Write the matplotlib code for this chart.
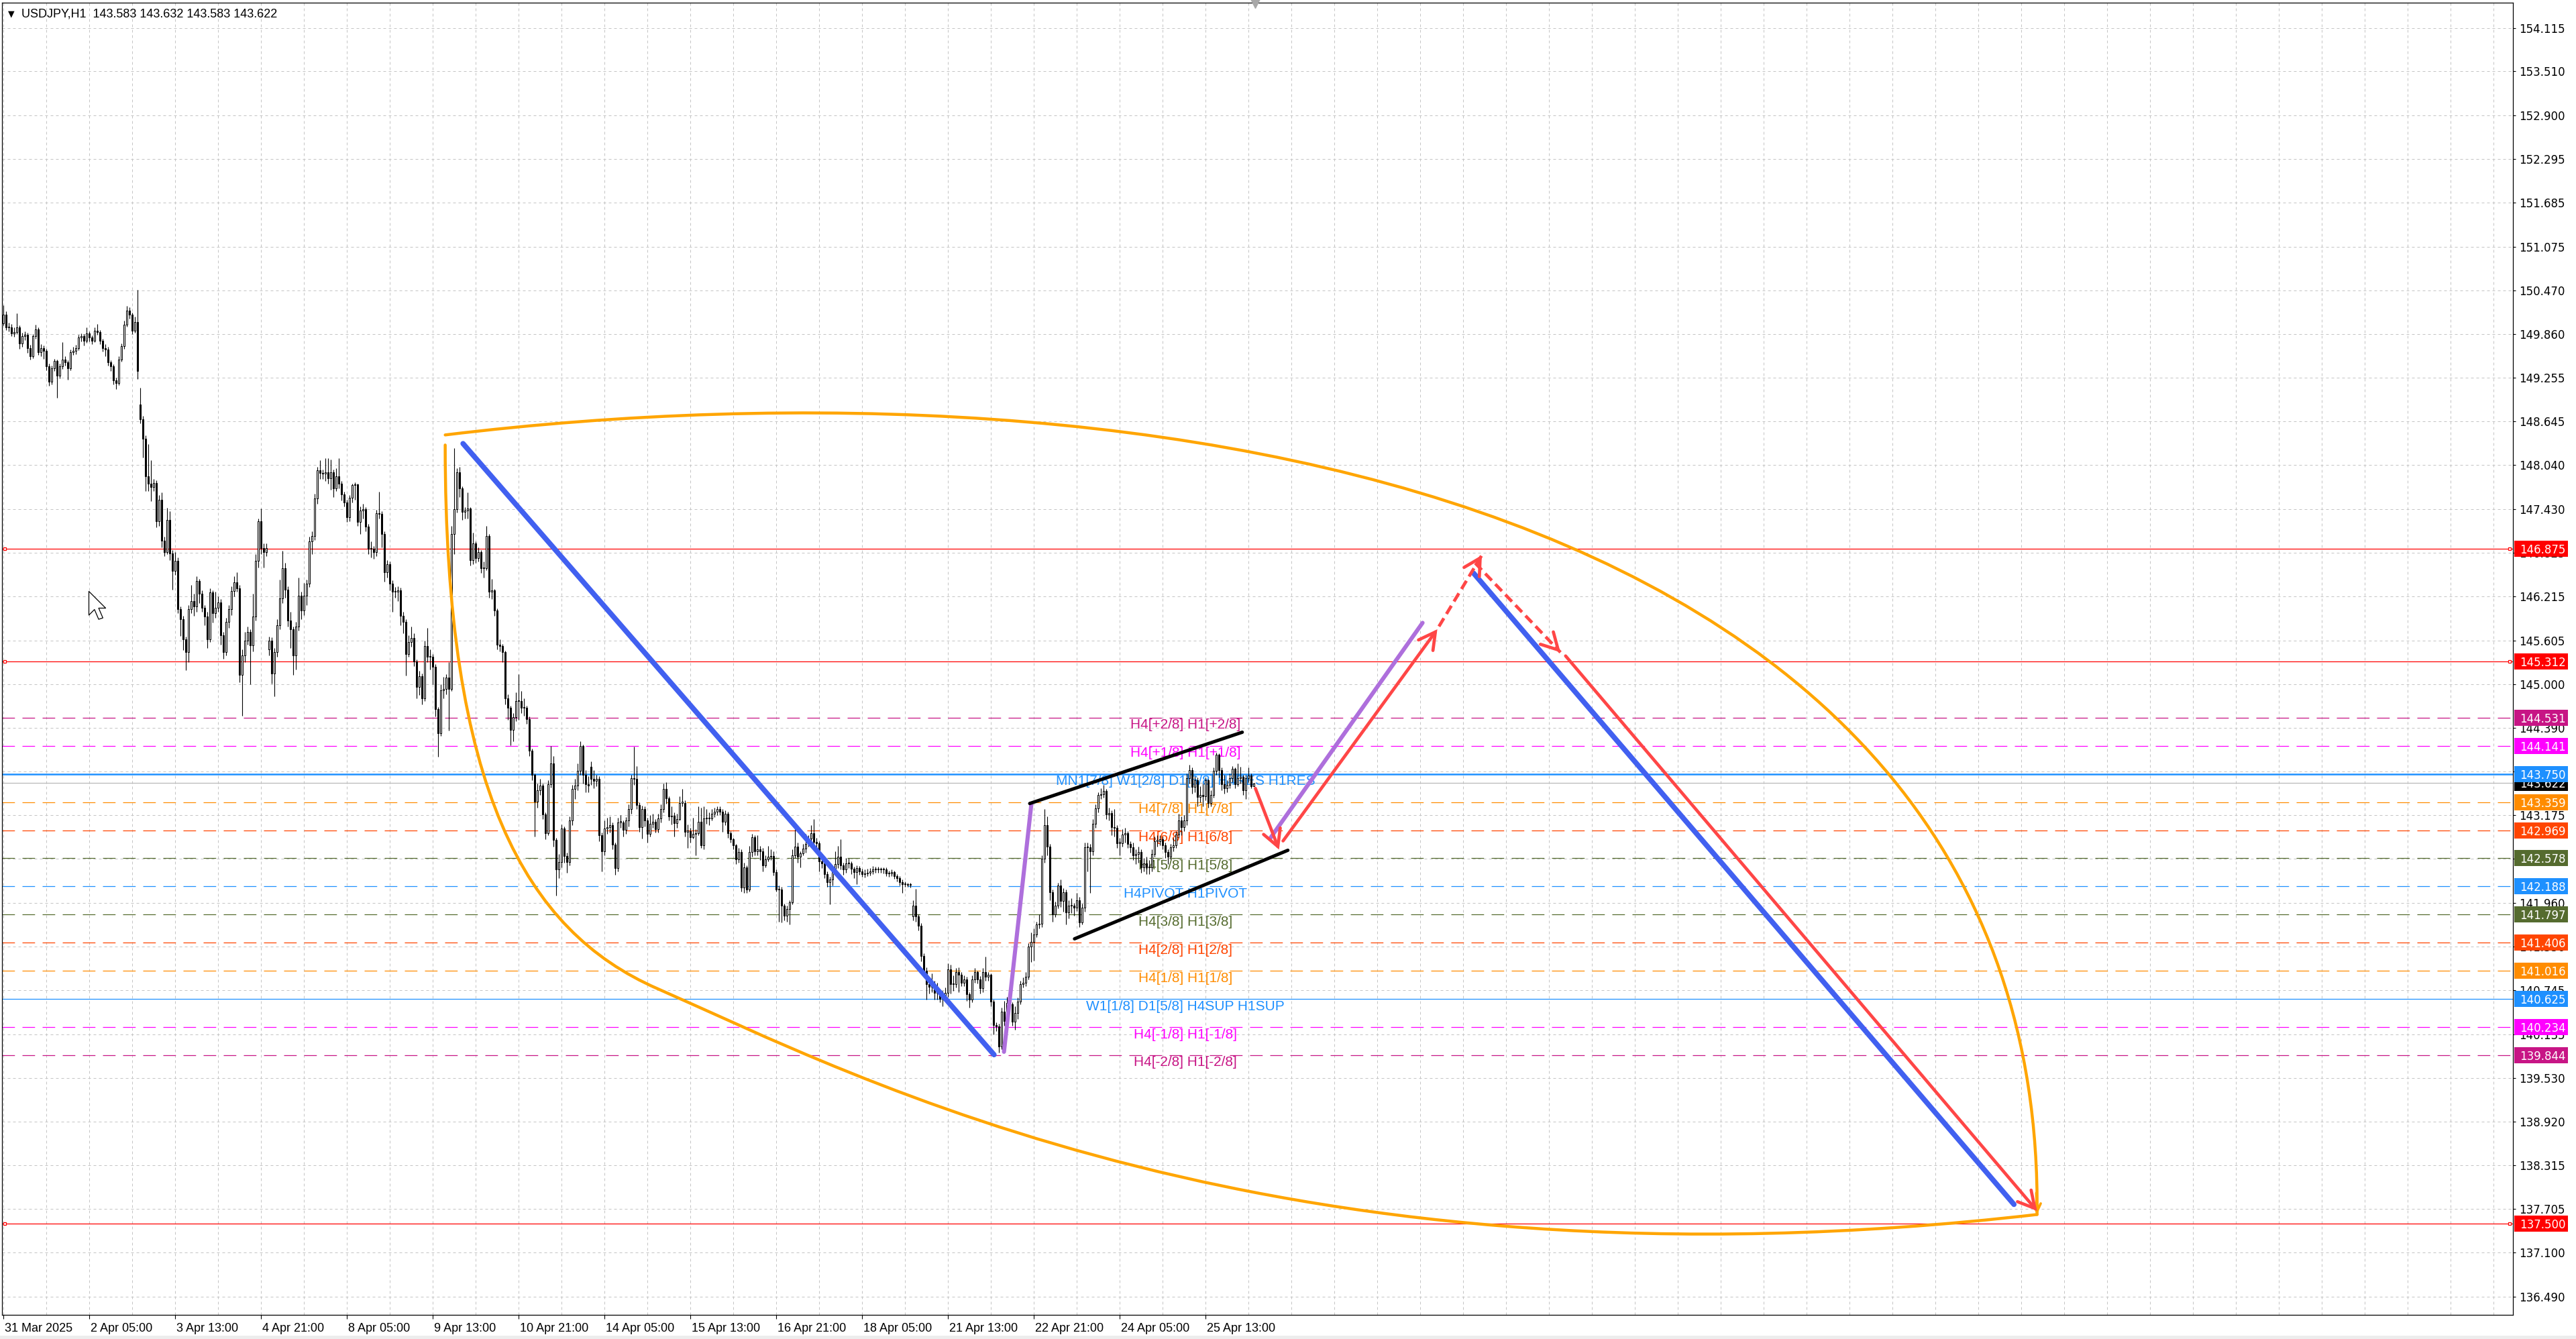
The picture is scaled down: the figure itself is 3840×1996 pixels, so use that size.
import matplotlib
matplotlib.use("Agg")
import matplotlib.pyplot as plt
import matplotlib.transforms as mtransforms
from matplotlib.path import Path
from matplotlib.patches import PathPatch, Rectangle

# ---- hourly USDJPY candles (bar 0 = 31 Mar 21:00) ----
OPEN = [
    150.01, 150.13, 149.95, 149.95, 149.87, 149.89, 149.95, 149.73, 149.83, 149.85,
    149.67, 149.55, 149.83, 149.93, 149.61, 149.67, 149.63, 149.41, 149.20, 149.39,
    149.49, 149.28, 149.41, 149.51, 149.47, 149.39, 149.61, 149.63, 149.67, 149.81,
    149.83, 149.77, 149.87, 149.81, 149.77, 149.91, 149.89, 149.77, 149.67, 149.65,
    149.47, 149.41, 149.22, 149.18, 149.51, 149.69, 149.99, 150.19, 150.13, 149.91,
    150.03, 148.88, 148.68, 148.41, 147.89, 147.78, 147.74, 147.79, 147.26, 147.56,
    146.99, 146.83, 147.28, 146.81, 146.57, 146.71, 146.04, 145.90, 145.62, 145.44,
    146.04, 146.15, 146.08, 146.43, 146.25, 146.06, 145.94, 145.62, 146.27, 145.98,
    146.06, 146.13, 145.68, 145.44, 145.86, 146.04, 146.29, 146.41, 146.33, 145.13,
    145.40, 145.60, 145.72, 145.54, 145.94, 146.71, 147.26, 146.89, 146.83, 145.48,
    145.60, 145.15, 145.44, 145.82, 146.19, 146.61, 146.31, 145.88, 145.76, 145.40,
    145.80, 146.23, 146.02, 146.23, 146.39, 146.98, 147.06, 147.58, 147.97, 147.93,
    147.92, 147.94, 147.86, 147.94, 147.72, 147.89, 147.78, 147.63, 147.52, 147.32,
    147.59, 147.76, 147.77, 147.25, 147.41, 147.43, 147.19, 146.88, 146.88, 146.83,
    147.37, 147.36, 147.08, 146.55, 146.66, 146.39, 146.28, 146.28, 146.30, 145.95,
    145.86, 145.42, 145.58, 145.64, 145.31, 144.96, 145.11, 144.80, 145.53, 145.38,
    145.38, 145.24, 144.65, 144.32, 144.91, 144.93, 145.09, 144.93, 147.08, 147.43,
    147.94, 147.72, 147.39, 147.41, 147.44, 146.72, 146.95, 146.75, 146.83, 146.61,
    146.61, 147.06, 146.28, 146.30, 146.02, 145.55, 145.53, 145.44, 144.80, 144.67,
    144.36, 144.54, 144.76, 144.76, 144.67, 144.67, 144.51, 144.07, 143.74, 143.37,
    143.52, 143.59, 143.19, 142.93, 143.61, 143.90, 142.83, 142.42, 142.53, 142.99,
    142.61, 142.53, 143.10, 143.54, 143.59, 143.79, 144.14, 143.74, 143.61, 143.85,
    143.68, 143.65, 143.68, 142.90, 142.68, 142.99, 143.01, 143.04, 142.77, 142.44,
    143.08, 143.08, 142.97, 143.10, 143.26, 143.69, 143.68, 143.32, 143.01, 143.26,
    143.10, 142.92, 143.06, 143.09, 142.98, 143.13, 143.26, 143.54, 143.41, 143.16,
    143.17, 143.07, 143.12, 143.35, 143.35, 142.95, 142.96, 142.87, 142.92, 142.93,
    143.09, 142.76, 143.13, 143.13, 143.13, 143.20, 143.23, 143.26, 143.23, 143.09,
    143.20, 142.93, 142.84, 142.76, 142.56, 142.67, 142.17, 142.45, 142.14, 142.67,
    142.87, 142.68, 142.70, 142.68, 142.48, 142.56, 142.60, 142.61, 142.39, 142.14,
    142.14, 141.92, 141.78, 141.87, 141.97, 142.62, 142.74, 142.60, 142.65, 142.71,
    142.78, 142.85, 142.93, 142.81, 142.79, 142.54, 142.51, 142.36, 142.25, 142.28,
    142.39, 142.50, 142.60, 142.48, 142.42, 142.51, 142.51, 142.43, 142.39, 142.44,
    142.40, 142.36, 142.37, 142.38, 142.40, 142.42, 142.42, 142.42, 142.42, 142.42,
    142.37, 142.37, 142.39, 142.33, 142.30, 142.25, 142.22, 142.22, 142.21, 141.77,
    141.92, 141.77, 141.64, 141.22, 141.02, 140.83, 140.79, 140.83, 140.71, 140.72,
    140.63, 140.65, 140.71, 141.04, 140.83, 140.83, 141.00, 140.96, 140.85, 140.90,
    140.69, 140.62, 140.90, 141.00, 140.90, 140.77, 141.00, 140.93, 140.96, 140.59,
    140.26, 140.24, 139.96, 140.45, 140.32, 140.57, 140.55, 140.31, 140.43, 140.59,
    140.83, 140.85, 140.93, 141.35, 141.42, 141.52, 141.66, 141.67, 142.57, 143.04,
    142.74, 142.11, 141.80, 141.92, 142.20, 141.99, 142.11, 141.83, 141.92, 141.92,
    141.89, 142.00, 141.69, 141.89, 142.73, 142.73, 142.68, 143.06, 143.27, 143.46,
    143.47, 143.51, 143.19, 143.21, 143.01, 143.00, 142.79, 142.79, 142.91, 142.93,
    142.78, 142.73, 142.62, 142.64, 142.67, 142.45, 142.51, 142.45, 142.45, 142.64,
    142.82, 142.82, 142.84, 142.76, 142.67, 142.60, 142.73, 142.76, 142.91, 143.10,
    143.01, 143.10, 143.69, 143.80, 143.57, 143.66, 143.43, 143.46, 143.44, 143.66,
    143.35, 143.46, 143.79, 144.02, 143.80, 143.61, 143.55, 143.60, 143.69, 143.82,
    143.61, 143.69, 143.71, 143.52, 143.69, 143.73, 143.58,
]
HIGH = [
    150.26, 150.18, 150.02, 150.00, 149.95, 150.15, 149.98, 149.88, 149.90, 149.88,
    149.71, 149.86, 149.99, 149.95, 149.72, 149.70, 149.66, 149.45, 149.42, 149.52,
    149.51, 149.45, 149.75, 149.55, 149.50, 149.65, 149.68, 149.71, 149.85, 149.87,
    149.86, 149.95, 149.90, 149.84, 149.95, 150.00, 149.92, 149.80, 149.72, 149.68,
    149.50, 149.44, 149.26, 149.55, 149.73, 150.05, 150.25, 150.23, 150.16, 150.10,
    150.48, 149.12, 148.72, 148.45, 148.33, 148.11, 147.85, 147.83, 147.62, 147.66,
    147.05, 147.45, 147.40, 146.86, 146.83, 146.76, 146.08, 145.95, 145.66, 146.10,
    146.38, 146.25, 146.50, 146.46, 146.30, 146.10, 146.00, 146.33, 146.30, 146.28,
    146.22, 146.18, 145.72, 145.92, 146.10, 146.36, 146.50, 146.55, 146.38, 145.48,
    145.72, 145.80, 145.76, 146.25, 146.80, 147.30, 147.44, 146.95, 146.95, 145.66,
    145.65, 145.50, 145.90, 146.45, 146.85, 146.68, 146.36, 146.00, 145.80, 145.86,
    146.48, 146.28, 146.40, 146.45, 147.05, 147.12, 147.64, 148.02, 148.11, 147.98,
    148.14, 148.14, 148.12, 147.98, 148.00, 148.14, 147.82, 147.67, 147.56, 147.62,
    147.78, 147.80, 147.78, 147.47, 147.50, 147.46, 147.22, 146.98, 146.92, 147.42,
    147.67, 147.40, 147.12, 146.72, 146.70, 146.44, 146.35, 146.36, 146.34, 146.00,
    145.90, 145.68, 145.80, 145.70, 145.34, 145.18, 145.15, 145.60, 145.78, 145.48,
    145.42, 145.28, 144.68, 145.00, 145.10, 145.14, 145.30, 147.20, 148.28, 148.00,
    148.02, 147.75, 147.46, 147.66, 147.46, 147.10, 146.98, 146.90, 146.86, 146.70,
    147.20, 147.08, 146.46, 146.32, 146.05, 145.62, 145.56, 145.46, 144.86, 144.70,
    144.60, 144.88, 145.14, 144.90, 144.80, 144.70, 144.55, 144.10, 143.76, 143.62,
    143.68, 143.62, 143.22, 143.66, 144.14, 144.00, 142.86, 142.64, 143.05, 143.02,
    142.66, 143.16, 143.60, 143.68, 143.90, 144.20, 144.16, 143.80, 143.72, 143.92,
    143.80, 143.74, 143.72, 142.94, 143.10, 143.14, 143.16, 143.08, 142.80, 143.14,
    143.18, 143.10, 143.15, 143.33, 143.74, 144.13, 143.86, 143.36, 143.31, 143.30,
    143.14, 143.18, 143.20, 143.12, 143.20, 143.33, 143.62, 143.64, 143.44, 143.30,
    143.22, 143.20, 143.44, 143.54, 143.38, 143.05, 143.00, 143.14, 142.98, 143.30,
    143.28, 143.30, 143.26, 143.22, 143.26, 143.28, 143.30, 143.30, 143.26, 143.24,
    143.23, 142.96, 142.86, 142.78, 142.72, 142.70, 142.52, 142.48, 142.75, 142.92,
    142.90, 142.90, 142.75, 142.72, 142.62, 142.75, 142.70, 142.68, 142.42, 142.20,
    142.18, 141.95, 141.92, 142.00, 142.70, 142.98, 142.80, 142.68, 142.78, 142.92,
    142.90, 143.04, 143.12, 142.86, 142.82, 142.60, 142.55, 142.40, 142.32, 142.45,
    142.68, 142.75, 142.84, 142.52, 142.58, 142.58, 142.54, 142.46, 142.48, 142.47,
    142.43, 142.42, 142.43, 142.44, 142.47, 142.46, 142.46, 142.45, 142.45, 142.45,
    142.41, 142.42, 142.41, 142.36, 142.33, 142.28, 142.26, 142.24, 142.24, 142.00,
    142.15, 141.80, 141.68, 141.26, 141.06, 140.92, 140.98, 140.88, 140.85, 140.76,
    140.74, 140.78, 141.12, 141.10, 140.95, 141.05, 141.06, 141.00, 140.95, 140.93,
    140.72, 140.95, 141.05, 141.02, 140.94, 141.05, 141.21, 141.00, 140.98, 140.62,
    140.30, 140.28, 140.50, 140.60, 140.65, 140.70, 140.58, 140.52, 140.64, 140.88,
    140.92, 141.00, 141.40, 141.55, 141.60, 141.70, 141.80, 142.62, 143.26, 143.16,
    142.78, 142.14, 141.98, 142.24, 142.28, 142.16, 142.14, 142.00, 142.02, 141.96,
    142.10, 142.04, 141.95, 142.80, 142.80, 142.78, 143.12, 143.33, 143.50, 143.55,
    143.60, 143.54, 143.28, 143.24, 143.26, 143.04, 142.86, 142.98, 143.00, 142.96,
    142.82, 142.80, 142.70, 142.74, 142.70, 142.58, 142.60, 142.55, 142.70, 142.88,
    142.90, 142.90, 142.88, 142.80, 142.70, 142.78, 142.86, 142.96, 143.20, 143.16,
    143.18, 143.76, 143.88, 143.84, 143.72, 143.70, 143.58, 143.62, 143.70, 143.68,
    143.52, 143.84, 144.05, 144.04, 143.84, 143.74, 143.66, 143.76, 143.86, 143.84,
    143.90, 143.85, 143.74, 143.74, 143.84, 143.76, 143.63,
]
LOW = [
    149.98, 149.92, 149.90, 149.83, 149.82, 149.86, 149.66, 149.68, 149.78, 149.60,
    149.51, 149.53, 149.80, 149.57, 149.55, 149.52, 149.36, 149.14, 149.16, 149.35,
    148.98, 149.25, 149.38, 149.42, 149.23, 149.36, 149.57, 149.58, 149.64, 149.76,
    149.70, 149.74, 149.76, 149.72, 149.75, 149.85, 149.72, 149.62, 149.55, 149.42,
    149.35, 149.16, 149.10, 149.15, 149.48, 149.66, 149.96, 150.08, 149.86, 149.88,
    149.24, 148.62, 148.15, 147.68, 147.68, 147.54, 147.68, 147.18, 147.20, 146.90,
    146.78, 146.80, 146.72, 146.31, 146.52, 145.98, 145.67, 145.47, 145.19, 145.30,
    145.98, 145.95, 146.00, 146.12, 146.00, 145.82, 145.50, 145.58, 145.85, 145.92,
    146.00, 145.55, 145.35, 145.40, 145.78, 145.96, 146.22, 146.28, 145.02, 144.56,
    145.30, 145.55, 145.00, 145.45, 145.88, 146.62, 146.80, 146.62, 146.78, 145.40,
    145.01, 144.83, 145.38, 145.76, 146.12, 146.20, 145.80, 145.50, 145.13, 145.20,
    145.74, 145.90, 145.96, 146.10, 146.35, 146.80, 147.00, 147.50, 147.85, 147.85,
    147.82, 147.78, 147.70, 147.60, 147.68, 147.72, 147.55, 147.47, 147.25, 147.26,
    147.52, 147.56, 147.20, 147.08, 147.30, 147.12, 146.80, 146.76, 146.74, 146.78,
    147.30, 146.90, 146.42, 146.48, 146.30, 146.00, 146.20, 146.15, 145.82, 145.70,
    145.12, 145.38, 145.52, 145.25, 144.80, 144.85, 144.72, 144.76, 145.30, 145.20,
    145.00, 144.55, 143.99, 144.28, 144.80, 144.86, 144.35, 144.90, 146.80, 147.38,
    147.60, 147.28, 147.30, 147.30, 146.65, 146.66, 146.68, 146.70, 146.54, 146.48,
    146.58, 146.20, 146.18, 145.95, 145.48, 145.45, 145.30, 144.72, 144.50, 144.15,
    144.20, 144.48, 144.50, 144.60, 144.56, 144.45, 144.00, 143.66, 142.88, 143.28,
    143.46, 143.12, 142.84, 142.90, 143.56, 142.74, 142.06, 142.30, 142.45, 142.52,
    142.38, 142.48, 143.04, 143.40, 143.52, 143.74, 143.62, 143.50, 143.50, 143.60,
    143.55, 143.58, 142.82, 142.40, 142.62, 142.92, 142.94, 142.70, 142.35, 142.40,
    143.00, 142.88, 142.92, 143.02, 143.20, 143.60, 143.26, 142.95, 142.85, 143.02,
    142.80, 142.88, 143.00, 142.94, 142.94, 143.08, 143.22, 143.34, 143.10, 143.05,
    142.88, 143.00, 143.10, 143.30, 142.88, 142.72, 142.80, 142.85, 142.62, 142.90,
    142.72, 142.70, 143.06, 143.04, 143.10, 143.15, 143.18, 143.18, 142.95, 143.04,
    142.86, 142.80, 142.70, 142.50, 142.52, 142.12, 142.10, 142.10, 142.12, 142.60,
    142.62, 142.62, 142.55, 142.40, 142.45, 142.54, 142.55, 142.34, 142.12, 141.70,
    141.69, 141.72, 141.70, 141.66, 141.94, 142.58, 142.52, 142.45, 142.62, 142.66,
    142.74, 142.80, 142.75, 142.72, 142.40, 142.44, 142.30, 142.18, 141.94, 142.20,
    142.36, 142.44, 142.42, 142.35, 142.38, 142.44, 142.36, 142.30, 142.22, 142.35,
    142.32, 142.31, 142.33, 142.34, 142.36, 142.38, 142.38, 142.38, 142.37, 142.33,
    142.32, 142.33, 142.29, 142.26, 142.20, 142.10, 142.18, 142.18, 142.17, 141.72,
    141.70, 141.58, 141.15, 140.95, 140.62, 140.70, 140.72, 140.62, 140.62, 140.58,
    140.52, 140.60, 140.65, 140.70, 140.74, 140.78, 140.72, 140.80, 140.80, 140.60,
    140.50, 140.58, 140.85, 140.84, 140.70, 140.72, 140.88, 140.88, 140.52, 140.13,
    140.18, 139.88, 139.93, 140.25, 140.28, 140.48, 140.25, 140.20, 140.35, 140.55,
    140.78, 140.80, 140.90, 141.14, 141.16, 141.48, 141.60, 141.62, 142.52, 142.62,
    142.00, 141.70, 141.76, 141.88, 141.90, 141.84, 141.66, 141.74, 141.82, 141.78,
    141.85, 141.62, 141.66, 141.84, 142.40, 142.10, 142.62, 143.00, 143.22, 143.40,
    143.42, 143.12, 143.10, 142.90, 142.88, 142.72, 142.62, 142.74, 142.80, 142.72,
    142.66, 142.55, 142.50, 142.52, 142.38, 142.40, 142.36, 142.36, 142.40, 142.60,
    142.74, 142.76, 142.70, 142.58, 142.50, 142.56, 142.68, 142.72, 142.86, 142.90,
    142.96, 143.04, 143.62, 143.48, 143.50, 143.30, 143.36, 143.30, 143.38, 143.28,
    143.30, 143.42, 143.74, 143.70, 143.52, 143.48, 143.50, 143.55, 143.64, 143.55,
    143.58, 143.62, 143.46, 143.40, 143.64, 143.55, 143.58,
]
CLOSE = [
    150.13, 149.95, 149.95, 149.87, 149.89, 149.95, 149.73, 149.83, 149.85, 149.67,
    149.55, 149.83, 149.93, 149.61, 149.67, 149.63, 149.41, 149.20, 149.39, 149.49,
    149.28, 149.41, 149.51, 149.47, 149.39, 149.61, 149.63, 149.67, 149.81, 149.83,
    149.77, 149.87, 149.81, 149.77, 149.91, 149.89, 149.77, 149.67, 149.65, 149.47,
    149.41, 149.22, 149.18, 149.51, 149.69, 149.99, 150.19, 150.13, 149.91, 150.03,
    149.35, 148.68, 148.41, 147.89, 147.78, 147.74, 147.79, 147.26, 147.56, 146.99,
    146.83, 147.28, 146.81, 146.57, 146.71, 146.04, 145.90, 145.62, 145.44, 146.04,
    146.15, 146.08, 146.43, 146.25, 146.06, 145.94, 145.62, 146.27, 145.98, 146.06,
    146.13, 145.68, 145.44, 145.86, 146.04, 146.29, 146.41, 146.33, 145.13, 145.40,
    145.60, 145.72, 145.54, 145.94, 146.71, 147.26, 146.89, 146.83, 146.89, 145.60,
    145.15, 145.44, 145.82, 146.19, 146.61, 146.31, 145.88, 145.76, 145.40, 145.80,
    146.23, 146.02, 146.23, 146.39, 146.98, 147.06, 147.58, 147.97, 147.93, 147.92,
    147.94, 147.86, 147.94, 147.72, 147.89, 147.78, 147.63, 147.52, 147.32, 147.59,
    147.76, 147.77, 147.25, 147.41, 147.43, 147.19, 146.88, 146.88, 146.83, 147.37,
    147.36, 147.08, 146.55, 146.66, 146.39, 146.28, 146.28, 146.30, 145.95, 145.86,
    145.42, 145.58, 145.64, 145.31, 144.96, 145.11, 144.80, 145.53, 145.38, 145.38,
    145.24, 144.65, 144.32, 144.91, 144.93, 145.09, 144.93, 147.08, 147.43, 147.94,
    147.72, 147.39, 147.41, 147.44, 146.72, 146.95, 146.75, 146.83, 146.61, 146.61,
    147.06, 146.28, 146.30, 146.02, 145.55, 145.53, 145.44, 144.80, 144.67, 144.36,
    144.54, 144.76, 144.76, 144.67, 144.67, 144.51, 144.07, 143.74, 143.37, 143.52,
    143.59, 143.19, 142.93, 143.61, 143.90, 142.83, 142.42, 142.53, 142.99, 142.61,
    142.53, 143.10, 143.54, 143.59, 143.79, 144.14, 143.74, 143.61, 143.59, 143.68,
    143.65, 143.68, 142.90, 142.68, 142.99, 143.01, 143.04, 142.77, 142.44, 143.08,
    143.08, 142.97, 143.10, 143.26, 143.69, 143.68, 143.32, 143.01, 143.26, 143.10,
    142.92, 143.06, 143.09, 142.98, 143.13, 143.26, 143.54, 143.41, 143.16, 143.17,
    143.07, 143.12, 143.35, 143.35, 142.95, 142.96, 142.87, 142.92, 142.93, 143.09,
    142.76, 143.13, 143.13, 143.13, 143.20, 143.23, 143.26, 143.23, 143.09, 143.20,
    142.93, 142.84, 142.76, 142.56, 142.67, 142.17, 142.45, 142.14, 142.67, 142.87,
    142.68, 142.70, 142.68, 142.48, 142.56, 142.60, 142.61, 142.39, 142.14, 142.14,
    141.92, 141.78, 141.87, 141.97, 142.62, 142.74, 142.60, 142.65, 142.71, 142.78,
    142.85, 142.93, 142.81, 142.79, 142.54, 142.51, 142.36, 142.25, 142.28, 142.39,
    142.50, 142.60, 142.48, 142.42, 142.51, 142.51, 142.43, 142.39, 142.44, 142.40,
    142.36, 142.37, 142.38, 142.40, 142.42, 142.42, 142.42, 142.42, 142.42, 142.37,
    142.37, 142.39, 142.33, 142.30, 142.25, 142.22, 142.22, 142.21, 142.21, 141.92,
    141.77, 141.64, 141.22, 141.02, 140.83, 140.79, 140.83, 140.71, 140.72, 140.63,
    140.65, 140.71, 141.04, 140.83, 140.83, 141.00, 140.96, 140.85, 140.90, 140.69,
    140.62, 140.90, 141.00, 140.90, 140.77, 141.00, 140.93, 140.96, 140.59, 140.26,
    140.24, 139.96, 140.45, 140.32, 140.57, 140.55, 140.31, 140.43, 140.59, 140.83,
    140.85, 140.93, 141.35, 141.42, 141.52, 141.66, 141.67, 142.57, 143.04, 142.74,
    142.11, 141.80, 141.92, 142.20, 141.99, 142.11, 141.83, 141.92, 141.92, 141.89,
    142.00, 141.69, 141.89, 142.73, 142.73, 142.68, 143.06, 143.27, 143.46, 143.47,
    143.51, 143.19, 143.21, 143.01, 143.00, 142.79, 142.79, 142.91, 142.93, 142.78,
    142.73, 142.62, 142.64, 142.67, 142.45, 142.51, 142.45, 142.45, 142.64, 142.82,
    142.82, 142.84, 142.76, 142.67, 142.60, 142.73, 142.76, 142.91, 143.10, 143.01,
    143.10, 143.69, 143.80, 143.57, 143.66, 143.43, 143.46, 143.44, 143.66, 143.35,
    143.46, 143.79, 144.02, 143.80, 143.61, 143.55, 143.60, 143.69, 143.82, 143.61,
    143.69, 143.71, 143.52, 143.69, 143.73, 143.58, 143.62,
]

TIME_TICKS = [0, 32, 64, 96, 128, 160, 192, 224, 256, 288, 320, 352, 384, 416, 448]
TIME_LABELS = [
    "31 Mar 2025", "2 Apr 05:00", "3 Apr 13:00", "4 Apr 21:00", "8 Apr 05:00",
    "9 Apr 13:00", "10 Apr 21:00", "14 Apr 05:00", "15 Apr 13:00", "16 Apr 21:00",
    "18 Apr 05:00", "21 Apr 13:00", "22 Apr 21:00", "24 Apr 05:00", "25 Apr 13:00",
]
PRICE_TICKS = [
    154.115, 153.510, 152.900, 152.295, 151.685, 151.075, 150.470, 149.860, 149.255,
    148.645, 148.040, 147.430, 146.825, 146.215, 145.605, 145.000, 144.390, 143.785,
    143.175, 142.570, 141.960, 141.350, 140.745, 140.135, 139.530, 138.920, 138.315,
    137.705, 137.100, 136.490,
]

# Murrey-style levels: price, colour, style, chart text
LEVEL_PRICES = [146.875, 145.312, 144.531, 144.141, 143.750, 143.359, 142.969, 142.578,
                142.188, 141.797, 141.406, 141.016, 140.625, 140.234, 139.844, 137.500]
LEVEL_COLORS = ["#FF0000", "#FF0000", "#C71585", "#FF00FF", "#1E90FF", "#FF8C00", "#FF4500",
                "#556B2F", "#1E90FF", "#556B2F", "#FF4500", "#FF8C00", "#1E90FF", "#FF00FF",
                "#C71585", "#FF0000"]
LEVEL_STYLES = ["red", "red", "dash", "dash", "main", "dash", "dash", "dash", "dash", "dash",
                "dash", "dash", "solid", "dash", "dash", "red"]
LEVEL_TEXTS = ["", "", "H4[+2/8] H1[+2/8]", "H4[+1/8] H1[+1/8]",
               "MN1[7/8] W1[2/8] D1[6/8] H4RES H1RES", "H4[7/8] H1[7/8]", "H4[6/8] H1[6/8]",
               "H4[5/8] H1[5/8]", "H4PIVOT H1PIVOT", "H4[3/8] H1[3/8]", "H4[2/8] H1[2/8]",
               "H4[1/8] H1[1/8]", "W1[1/8] D1[5/8] H4SUP H1SUP", "H4[-1/8] H1[-1/8]",
               "H4[-2/8] H1[-2/8]", ""]
LAST_PRICE = 143.622

# hand-drawn objects, anchors as (bar, price)
BLUE_LINES = [((171.3, 148.34), (369.2, 139.85)), ((547.9, 146.54), (749.3, 137.77))]
PURPLE_LINES = [((372.9, 139.89), (383.1, 143.33)), ((472.0, 142.85), (528.9, 145.85))]
CHANNEL_LINES = [((382.5, 143.34), (461.7, 144.33)), ((399.2, 141.46), (478.7, 142.69))]
RED_ARROWS = [((466.6, 143.55), (475.4, 142.70)), ((476.9, 142.82), (534.4, 145.76)),
              ((582.2, 145.39), (757.9, 137.68))]
RED_DASHED_ARROWS = [((535.0, 145.80), (551.0, 146.79)), ((548.5, 146.68), (580.3, 145.44))]
ARC_UPPER = [(164.66, 148.46), (427.3, 149.65), (760.9, 147.64), (757.9, 137.63)]
ARC_LOWER = [(164.66, 148.32), (164.66, 143.52), (194.65, 141.57), (243.63, 140.77),
             (317.09, 139.57), (476.3, 136.42), (757.9, 137.63)]
CURSOR_AT = (31.8, 146.29)

FIG_W, FIG_H = 3840, 1996
AX_L, AX_R, AX_T, AX_B = 3, 3746, 4, 1960
X_MIN, X_MAX = -0.5, 935.25
Y_MIN, Y_MAX = 136.236, 154.465

ARIAL = ["Liberation Sans", "DejaVu Sans"]


def main() -> None:
    fig = plt.figure(figsize=(FIG_W / 100, FIG_H / 100), dpi=100)
    ax = fig.add_axes([AX_L / FIG_W, 1 - AX_B / FIG_H,
                       (AX_R - AX_L) / FIG_W, (AX_B - AX_T) / FIG_H])
    ax.set_xlim(X_MIN, X_MAX)
    ax.set_ylim(Y_MIN, Y_MAX)
    py = (Y_MAX - Y_MIN) / (AX_B - AX_T)   # price per pixel
    px = 1.0 / (AX_R - AX_L)               # axes fraction per pixel

    # grid
    for b in range(0, int(X_MAX) + 1, 16):
        ax.axvline(b, color="#C4C4C4", lw=0.72, dashes=(4, 4), zorder=0)
    for p in PRICE_TICKS:
        ax.axhline(p, color="#C4C4C4", lw=0.72, dashes=(4, 4), zorder=0)

    # levels
    for price, color, style in zip(LEVEL_PRICES, LEVEL_COLORS, LEVEL_STYLES):
        if style == "dash":
            ax.axhline(price, color=color, lw=0.9, dashes=(15, 9), zorder=1)
        elif style == "main":
            ax.axhline(price, color=color, lw=1.8, zorder=1)
        else:
            ax.axhline(price, color=color, lw=0.9, zorder=1)
            if style == "red":
                ax.plot([0.6, X_MAX - 1.2], [price, price], ls="none", marker="s", ms=3.5,
                        mfc="white", mec=color, mew=0.9, zorder=2)
    ax.axhline(LAST_PRICE, color="#B8B8B8", lw=0.9, zorder=1)

    for price, color, text in zip(LEVEL_PRICES, LEVEL_COLORS, LEVEL_TEXTS):
        if text:
            ax.text(440.5, price - 1.5 * py, text, color=color, family=ARIAL, fontsize=15,
                    ha="center", va="top", zorder=2)

    # candles
    bars = range(len(CLOSE))
    lows = [min(l, o, c) for l, o, c in zip(LOW, OPEN, CLOSE)]
    highs = [max(h, o, c) for h, o, c in zip(HIGH, OPEN, CLOSE)]
    ax.vlines(bars, lows, highs, color="black", lw=0.8, zorder=3)
    bottoms = [min(o, c) for o, c in zip(OPEN, CLOSE)]
    heights = [max(abs(c - o), 0.012) for o, c in zip(OPEN, CLOSE)]
    faces = ["white" if c >= o else "black" for o, c in zip(OPEN, CLOSE)]
    ax.bar(bars, heights, bottom=bottoms, width=0.5, color=faces, edgecolor="black",
           linewidth=0.75, zorder=4)

    # orange arc
    codes = [Path.MOVETO, Path.CURVE4, Path.CURVE4, Path.CURVE4]
    ax.add_patch(PathPatch(Path(ARC_UPPER, codes), fill=False, ec="#FFA500", lw=3.2,
                           capstyle="round", zorder=6))
    codes = [Path.MOVETO] + [Path.CURVE4] * 6
    ax.add_patch(PathPatch(Path(ARC_LOWER, codes), fill=False, ec="#FFA500", lw=3.2,
                           capstyle="round", zorder=6))
    end = ARC_UPPER[-1]
    ax.annotate("", xy=end, xytext=(end[0] - 0.3, end[1] + 0.3),
                arrowprops=dict(arrowstyle="->", color="#FFA500", lw=2.6,
                                mutation_scale=22, shrinkA=0, shrinkB=0), zorder=6)

    for (x0, y0), (x1, y1) in BLUE_LINES:
        ax.plot([x0, x1], [y0, y1], color="#4160F0", lw=5.6, solid_capstyle="round", zorder=7)
    for (x0, y0), (x1, y1) in PURPLE_LINES:
        ax.plot([x0, x1], [y0, y1], color="#AE6FDC", lw=4.4, solid_capstyle="round", zorder=7)
    for (x0, y0), (x1, y1) in CHANNEL_LINES:
        ax.plot([x0, x1], [y0, y1], color="black", lw=3.6, solid_capstyle="round", zorder=8)

    red = "#FF4646"
    for start, stop in RED_ARROWS:
        ax.annotate("", xy=stop, xytext=start,
                    arrowprops=dict(arrowstyle="->,head_length=0.55,head_width=0.3", color=red,
                                    lw=3.4, mutation_scale=32, shrinkA=0, shrinkB=0,
                                    capstyle="round", joinstyle="miter"), zorder=8)
    for (x0, y0), (x1, y1) in RED_DASHED_ARROWS:
        ax.plot([x0, x1], [y0, y1], color=red, lw=3.4, dashes=(3, 1.6), zorder=8)
        ax.annotate("", xy=(x1, y1), xytext=(x1 - (x1 - x0) * 0.05, y1 - (y1 - y0) * 0.05),
                    arrowprops=dict(arrowstyle="->,head_length=0.55,head_width=0.3", color=red,
                                    lw=3.4, mutation_scale=32, shrinkA=0, shrinkB=0), zorder=8)

    # mouse pointer left on the screenshot
    pointer = Path([(0, 0), (0, -17), (4, -13), (7, -20), (10, -19), (7, -12), (12, -12), (0, 0)],
                   [Path.MOVETO] + [Path.LINETO] * 6 + [Path.CLOSEPOLY])
    ax.plot([CURSOR_AT[0]], [CURSOR_AT[1]], marker=pointer, ms=60, mfc="white", mec="black",
            mew=0.9, ls="none", zorder=9)

    # shift marker at the top
    ax.plot([466.5], [Y_MAX + 1.5 * py], marker="v", ms=13, color="#A8A8A8", clip_on=False,
            zorder=9)

    # axes styling
    for side in ("left", "right", "top", "bottom"):
        ax.spines[side].set_color("black")
        ax.spines[side].set_linewidth(0.9)
    ax.yaxis.tick_right()
    ax.set_yticks(PRICE_TICKS)
    ax.set_yticklabels([f"{p:.3f}" for p in PRICE_TICKS], family="DejaVu Sans", fontsize=12)
    ax.tick_params(axis="y", length=3.2, width=0.8, pad=3.5, colors="black")
    ax.set_xticks(TIME_TICKS)
    ax.set_xticklabels(TIME_LABELS, family=ARIAL, fontsize=13, ha="left")
    ax.tick_params(axis="x", length=4.5, width=0.8, pad=4, colors="black")
    for lab in ax.get_xticklabels():
        lab.set_transform(lab.get_transform() + mtransforms.ScaledTranslation(2 / 100, 0,
                                                                             fig.dpi_scale_trans))

    # price boxes on the scale
    trans = mtransforms.blended_transform_factory(ax.transAxes, ax.transData)
    boxes = [(LAST_PRICE, "black")] + list(zip(LEVEL_PRICES, LEVEL_COLORS))
    for z, (price, color) in enumerate(boxes):
        ax.add_patch(Rectangle((1 + 2 * px, price - 12 * py), 80 * px, 24 * py, transform=trans,
                               facecolor=color, edgecolor="none", clip_on=False, zorder=10 + z))
        ax.text(1 + 10.5 * px, price, f"{price:.3f}", transform=trans, color="white",
                family="DejaVu Sans", fontsize=12, ha="left", va="center_baseline",
                clip_on=False, zorder=10 + z)

    # header
    ax.text(9 * px, 1 - 17 * py / (Y_MAX - Y_MIN), "\u25BC", transform=ax.transAxes,
            fontsize=9, family="DejaVu Sans", ha="left", va="center", color="black")
    ax.text(29 * px, 1 - 17 * py / (Y_MAX - Y_MIN), "USDJPY,H1  143.583 143.632 143.583 143.622",
            transform=ax.transAxes, fontsize=13, family=ARIAL, ha="left", va="center",
            color="black")

    fig.patches.append(Rectangle((0, 0), 1, 5 / FIG_H, transform=fig.transFigure,
                                 facecolor="#EDEDED", edgecolor="none"))
    fig.savefig("out.png", dpi=100, facecolor="white")


if __name__ == "__main__":
    main()
